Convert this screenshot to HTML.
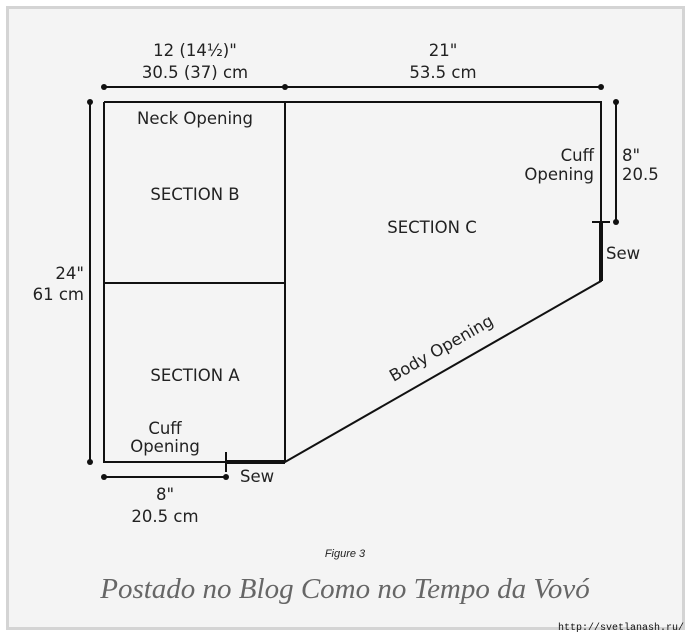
<!DOCTYPE html>
<html><head><style>
html,body{margin:0;padding:0;background:#fff;}
svg{display:block;}
text{font-family:"DejaVu Sans","Liberation Sans",sans-serif;fill:#222;font-size:16.5px;}
</style></head><body>
<svg width="690" height="636" viewBox="0 0 690 636" xmlns="http://www.w3.org/2000/svg">
<rect x="6" y="6" width="679" height="624" fill="#d4d4d4"/>
<rect x="9" y="9" width="673" height="618" fill="#f4f4f4"/>
<g stroke="#111" fill="none" stroke-width="2">
<polyline points="104,102 601,102 601,281 285,462 104,462 104,102"/>
<line x1="285" y1="102" x2="285" y2="462"/>
<line x1="104" y1="283" x2="285" y2="283"/>
<line x1="601" y1="222" x2="601" y2="281" stroke-width="4"/>
<line x1="226" y1="462" x2="285" y2="462" stroke-width="4"/>
<line x1="592" y1="222" x2="610" y2="222"/>
<line x1="226" y1="452" x2="226" y2="472"/>
<line x1="104" y1="87" x2="601" y2="87"/>
<line x1="90" y1="102" x2="90" y2="462"/>
<line x1="616" y1="102" x2="616" y2="222"/>
<line x1="104" y1="477" x2="226" y2="477"/>
</g>
<g fill="#111">
<circle cx="104" cy="87" r="3"/><circle cx="285" cy="87" r="3"/><circle cx="601" cy="87" r="3"/>
<circle cx="90" cy="102" r="3"/><circle cx="90" cy="462" r="3"/>
<circle cx="616" cy="102" r="3"/><circle cx="616" cy="222" r="3"/>
<circle cx="104" cy="477" r="3"/><circle cx="226" cy="477" r="3"/>
</g>
<g text-anchor="middle">
<text x="195" y="56">12 (14½)"</text>
<text x="195" y="78">30.5 (37) cm</text>
<text x="443" y="56">21"</text>
<text x="443" y="78">53.5 cm</text>
<text x="195" y="124">Neck Opening</text>
<text x="195" y="200">SECTION B</text>
<text x="432" y="233">SECTION C</text>
<text x="195" y="381">SECTION A</text>
<text x="165" y="434">Cuff</text>
<text x="165" y="452">Opening</text>
<text x="165" y="500">8"</text>
<text x="165" y="522">20.5 cm</text>
</g>
<g text-anchor="end">
<text x="594" y="161">Cuff</text>
<text x="594" y="180">Opening</text>
<text x="84" y="279">24"</text>
<text x="84" y="300">61 cm</text>
</g>
<text x="622" y="161">8"</text>
<text x="622" y="180">20.5</text>
<text x="606" y="259">Sew</text>
<text x="240" y="482">Sew</text>
<text x="444" y="353" text-anchor="middle" transform="rotate(-29.8 444 353)">Body Opening</text>
<text x="345" y="557" text-anchor="middle" style="font-family:'Liberation Sans',sans-serif;font-style:italic;font-size:11px;">Figure 3</text>
<text x="345" y="598" text-anchor="middle" style="font-family:'Liberation Serif',serif;font-style:italic;font-size:29px;fill:#666;">Postado no Blog Como no Tempo da Vovó</text>
<text x="684" y="630" text-anchor="end" style="font-family:'Liberation Mono',monospace;font-size:10px;fill:#111;">http://svetlanash.ru/</text>
</svg>
</body></html>
